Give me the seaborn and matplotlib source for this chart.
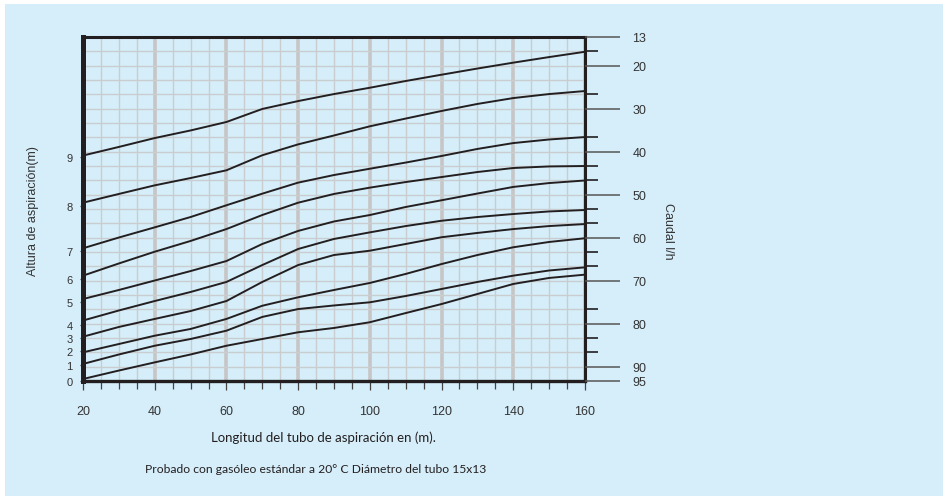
import numpy as np
import pandas as pd
import matplotlib
matplotlib.use("Agg")
import matplotlib.pyplot as plt
from matplotlib.patches import Rectangle
import seaborn as sns

# Longitud del tubo (m)
longitud = [20, 30, 40, 50, 60, 70, 80, 90, 100, 110, 120, 130, 140, 150, 160]

# Curvas de caudal, altura en divisiones de la rejilla (0-24)
curva_9 = [15.73, 16.33, 16.95, 17.48, 18.07, 18.98, 19.53, 20.02, 20.46, 20.93, 21.37, 21.80, 22.21, 22.60, 22.97]
curva_8 = [12.44, 13.05, 13.65, 14.16, 14.70, 15.75, 16.51, 17.13, 17.77, 18.31, 18.84, 19.33, 19.74, 20.02, 20.23]
curva_7 = [9.26, 10.01, 10.72, 11.44, 12.26, 13.07, 13.84, 14.37, 14.81, 15.24, 15.70, 16.19, 16.60, 16.85, 17.02]
curva_6 = [7.35, 8.20, 9.02, 9.77, 10.60, 11.58, 12.44, 13.05, 13.49, 13.88, 14.23, 14.58, 14.86, 14.97, 15.00]
curva_5 = [5.72, 6.35, 7.01, 7.67, 8.37, 9.56, 10.47, 11.13, 11.58, 12.14, 12.61, 13.08, 13.54, 13.81, 13.99]
curva_4 = [4.22, 4.92, 5.58, 6.21, 6.91, 8.09, 9.21, 9.91, 10.37, 10.81, 11.18, 11.44, 11.65, 11.83, 11.93]
curva_3 = [3.09, 3.77, 4.33, 4.88, 5.58, 6.91, 8.09, 8.79, 9.09, 9.56, 10.03, 10.33, 10.60, 10.81, 10.95]
curva_2 = [2.00, 2.58, 3.16, 3.63, 4.33, 5.25, 5.84, 6.35, 6.84, 7.47, 8.16, 8.79, 9.33, 9.70, 9.96]
curva_1 = [1.19, 1.85, 2.46, 2.93, 3.51, 4.47, 5.02, 5.27, 5.49, 5.93, 6.42, 6.91, 7.35, 7.71, 7.93]
curva_0 = [0.14, 0.73, 1.30, 1.85, 2.46, 2.93, 3.40, 3.70, 4.10, 4.74, 5.37, 6.07, 6.77, 7.19, 7.42]

# Eje izquierdo: altura de aspiración
altura_pos = [0.0, 1.12, 2.06, 2.97, 3.93, 5.49, 7.12, 9.09, 12.23, 15.61]
altura_labels = ["0", "1", "2", "3", "4", "5", "6", "7", "8", "9"]

# Eje derecho: caudal l/h
caudal_pos = [24, 22, 19, 16, 13, 10, 7, 4, 1, 0]
caudal_labels = ["13", "20", "30", "40", "50", "60", "70", "80", "90", "95"]
caudal_minor = [23, 20, 17, 15, 14, 12, 11, 9, 8, 5, 3, 2]

curvas = [curva_0, curva_1, curva_2, curva_3, curva_4, curva_5, curva_6, curva_7, curva_8, curva_9]
df = pd.concat(
    [pd.DataFrame({"longitud": longitud, "altura": c, "curva": i}) for i, c in enumerate(curvas)],
    ignore_index=True,
)

BG = "#d6eefa"
DARK = "#231f20"
GRID = "#c9cdd0"

sns.set_style("white")
plt.rcParams["font.family"] = ["Liberation Sans", "DejaVu Sans"]

fig = plt.figure(figsize=(9.48, 5.02), dpi=100)
fig.patch.set_facecolor("white")
fig.patches.append(Rectangle((5 / 948, 5 / 502), 938 / 948, 492 / 502, transform=fig.transFigure,
                             facecolor=BG, edgecolor="none", zorder=-10))

ax = fig.add_axes([83 / 948, 1 - 382 / 502, (585 - 83) / 948, (382 - 38) / 502])
ax.set_facecolor(BG)

sns.lineplot(data=df, x="longitud", y="altura", units="curva", estimator=None,
             color=DARK, lw=1.4, ax=ax, zorder=3)

ax.set_xlim(20, 160)
ax.set_ylim(0, 24)
ax.set_xlabel("")
ax.set_ylabel("")

ax.set_xticks(range(20, 161, 20))
ax.set_xticks(range(20, 161, 5), minor=True)
ax.set_yticks(altura_pos, labels=altura_labels)
ax.set_yticks(np.arange(0, 25), minor=True)

ax.tick_params(axis="x", which="major", direction="out", length=6.5, width=0.9, color="#444444",
               pad=11, labelsize=9, labelcolor="#333333", bottom=True)
ax.tick_params(axis="x", which="minor", direction="out", length=6, width=0.9, color="#444444", bottom=True)
ax.tick_params(axis="y", which="major", direction="out", length=2.5, width=0.9, color="#444444",
               pad=5, labelsize=8, labelcolor="#333333", left=True)
ax.tick_params(axis="y", which="minor", length=0)

ax.grid(which="minor", color=GRID, lw=1.0)
ax.grid(which="major", axis="x", color="#c6c6c6", lw=2.6)
ax.grid(which="major", axis="y", visible=False)
ax.set_axisbelow(True)

for side, w in [("left", 3.6), ("bottom", 2.4), ("top", 2.2), ("right", 2.2)]:
    ax.spines[side].set_visible(True)
    ax.spines[side].set_linewidth(w)
    ax.spines[side].set_color(DARK)
    ax.spines[side].set_zorder(5)

ax2 = ax.twinx()
ax2.set_ylim(0, 24)
ax2.set_yticks(caudal_pos, labels=caudal_labels)
ax2.set_yticks(caudal_minor, minor=True)
ax2.tick_params(which="major", direction="out", length=25, width=1.1, color="#555555",
                pad=9, labelsize=9, labelcolor="#333333", right=True)
ax2.tick_params(which="minor", direction="out", length=9.5, width=1.2, color=DARK, right=True)
for s in ax2.spines.values():
    s.set_visible(False)

fig.text(33 / 948, 1 - 211 / 502, "Altura de aspiración(m)", rotation=90,
         ha="center", va="center", fontsize=9, color="#333333")
fig.text(668 / 948, 1 - 231 / 502, "Caudal l/h", rotation=270,
         ha="center", va="center", fontsize=9, color="#333333")
fig.text(323 / 948, 1 - 438 / 502, "Longitud del tubo de aspiración en (m).",
         ha="center", va="center", fontsize=9.5, color=DARK, family=["Lato", "DejaVu Sans"])
fig.text(316 / 948, 1 - 470 / 502, "Probado con gasóleo estándar a 20° C Diámetro del tubo 15x13",
         ha="center", va="center", fontsize=8.7, color=DARK, family=["Lato", "DejaVu Sans"])

fig.savefig("out.png", dpi=100, facecolor=fig.get_facecolor())
